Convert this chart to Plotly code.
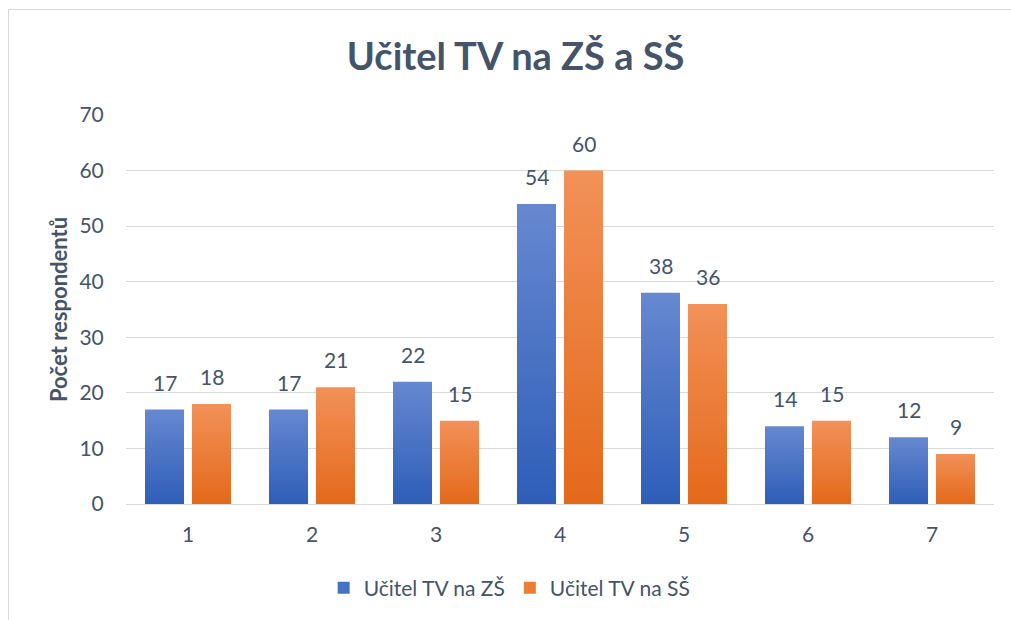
import plotly.graph_objects as go

categories = ["1", "2", "3", "4", "5", "6", "7"]
zs_values = [17, 17, 22, 54, 38, 14, 12]
ss_values = [18, 21, 15, 60, 36, 15, 9]
series_names = ["Učitel TV na ZŠ", "Učitel TV na SŠ"]
title_text = "Učitel TV na ZŠ a SŠ"
y_title = "Počet respondentů"

FONT = "Lato"
TXT = "#44546A"
BLUE = "#4472C4"
ORANGE = "#ED7D31"
FS = 21

fig = go.Figure()
fig.add_trace(go.Bar(x=categories, y=zs_values, name=series_names[0],
                     marker=dict(color=BLUE, line=dict(width=0))))
fig.add_trace(go.Bar(x=categories, y=ss_values, name=series_names[1],
                     marker=dict(color=ORANGE, line=dict(width=0))))

annotations = []
for vals, shift in ((zs_values, -23.5), (ss_values, 23.5)):
    for i, v in enumerate(vals):
        annotations.append(dict(x=i, y=v, text=str(v), xref="x", yref="y",
                                showarrow=False, xshift=shift, yshift=13,
                                yanchor="bottom",
                                font=dict(family=FONT, size=FS, color=TXT)))

fig.update_layout(
    width=1011, height=620,
    paper_bgcolor="white", plot_bgcolor="white",
    margin=dict(l=126, r=17, t=115, b=116),
    barmode="group", bargap=0.242, bargroupgap=0.17,
    title=dict(text=f"<b>{title_text}</b>", x=0.51, xanchor="center",
               y=1 - 57 / 620, yanchor="middle",
               font=dict(family=FONT, size=38, color=TXT)),
    font=dict(family=FONT, color=TXT),
    legend=dict(orientation="h", x=0.442, xanchor="center", y=-0.216,
                yanchor="middle", font=dict(family=FONT, size=FS, color=TXT),
                itemwidth=30, tracegroupgap=0, traceorder="normal"),
    annotations=annotations,
    shapes=[dict(type="rect", xref="paper", yref="paper",
                 x0=(8.5 - 126) / 868, x1=1.05,
                 y0=-0.32, y1=(504 - 9.5) / 389,
                 line=dict(color="#D9D9D9", width=1), fillcolor="rgba(0,0,0,0)",
                 layer="below")],
)
fig.update_xaxes(range=[-0.5, 6.5], showgrid=False, showline=False, zeroline=False,
                 ticks="outside", ticklen=12, tickcolor="rgba(0,0,0,0)",
                 tickfont=dict(family=FONT, size=FS, color=TXT))
fig.update_yaxes(range=[0, 70], dtick=10, showgrid=True, gridcolor="#D9D9D9",
                 gridwidth=1, zeroline=True, zerolinecolor="#D9D9D9",
                 zerolinewidth=1, showline=False,
                 ticks="outside", ticklen=17, tickcolor="rgba(0,0,0,0)",
                 tickfont=dict(family=FONT, size=FS, color=TXT),
                 title=dict(text=f"<b>{y_title}</b>", standoff=5,
                            font=dict(family=FONT, size=22, color=TXT)))

post = """
document.body.style.margin = '0';
var gd = document.getElementById('{plot_id}');
var svgNS = 'http://www.w3.org/2000/svg';
var svg = gd.querySelector('svg.main-svg');
var defs = svg.querySelector('defs') || svg.insertBefore(document.createElementNS(svgNS,'defs'), svg.firstChild);
function mk(id, c1, c2){
  var g = document.createElementNS(svgNS,'linearGradient');
  g.setAttribute('id', id); g.setAttribute('x1','0'); g.setAttribute('y1','0');
  g.setAttribute('x2','0'); g.setAttribute('y2','1');
  var s1 = document.createElementNS(svgNS,'stop'); s1.setAttribute('offset','0'); s1.setAttribute('stop-color',c1);
  var s2 = document.createElementNS(svgNS,'stop'); s2.setAttribute('offset','1'); s2.setAttribute('stop-color',c2);
  g.appendChild(s1); g.appendChild(s2); defs.appendChild(g);
}
mk('gradBlue', '#6688D0', '#2E5EB8');
mk('gradOrange', '#F29158', '#E4691A');
var traces = gd.querySelectorAll('.barlayer .trace');
var ids = ['gradBlue', 'gradOrange'];
traces.forEach(function(t, i){
  t.querySelectorAll('.point path').forEach(function(p){ p.style.fill = 'url(#' + ids[i] + ')'; });
});
"""
fig.write_html("out.html", post_script=post, config={"displayModeBar": False})
